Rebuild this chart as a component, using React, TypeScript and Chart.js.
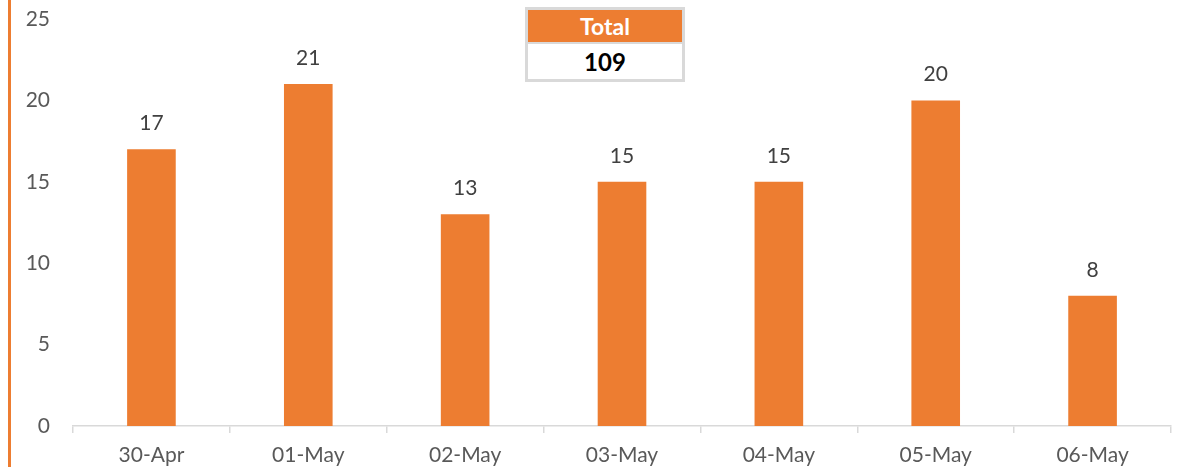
import React, { useEffect, useRef } from "react";
import { Chart, registerables } from "chart.js";

Chart.register(...registerables);

const categories = ["30-Apr", "01-May", "02-May", "03-May", "04-May", "05-May", "06-May"];
const values = [17, 21, 13, 15, 15, 20, 8];
const totalLabel = "Total";
const totalValue = 109;
const yTicks = [0, 5, 10, 15, 20, 25];

const ORANGE = "#ED7D31";
const FONT = "Lato";

const dataLabelPlugin = {
  id: "dataLabels",
  afterDatasetsDraw(chart: any) {
    const ctx = chart.ctx;
    const meta = chart.getDatasetMeta(0);
    ctx.save();
    ctx.font = `21px ${FONT}`;
    ctx.fillStyle = "#404040";
    ctx.textAlign = "center";
    ctx.textBaseline = "middle";
    meta.data.forEach((el: any, i: number) => {
      ctx.fillText(String(chart.data.datasets[0].data[i]), el.x, el.y - 26);
    });
    ctx.restore();
  },
};

export default function App() {
  const ref = useRef<HTMLCanvasElement | null>(null);

  useEffect(() => {
    document.body.style.margin = "0";
    if (!ref.current) return;
    const chart = new Chart(ref.current, {
      type: "bar",
      data: {
        labels: categories,
        datasets: [
          {
            data: values,
            backgroundColor: ORANGE,
            borderWidth: 0,
            categoryPercentage: 1,
            barPercentage: 0.31,
          },
        ],
      },
      options: {
        animation: false,
        responsive: false,
        maintainAspectRatio: false,
        layout: { padding: { top: 19, right: 25, left: 0, bottom: 0 } },
        plugins: { legend: { display: false }, tooltip: { enabled: false } },
        scales: {
          x: {
            offset: true,
            grid: {
              display: true,
              drawOnChartArea: false,
              drawTicks: true,
              tickLength: 7,
              color: "#d9d9d9",
              lineWidth: 1.5,
              offset: true,
            },
            border: { display: true, color: "#d9d9d9", width: 1.5 },
            ticks: {
              font: { family: FONT, size: 21 },
              color: "#595959",
              padding: 10,
              maxRotation: 0,
              autoSkip: false,
            },
            afterFit: (s: any) => {
              s.height = 41;
              s.paddingLeft = 0;
              s.paddingRight = 0;
            },
          },
          y: {
            min: 0,
            max: 25,
            afterBuildTicks: (s: any) => {
              s.ticks = yTicks.map((v) => ({ value: v }));
            },
            ticks: {
              font: { family: FONT, size: 21 },
              color: "#595959",
              padding: 23,
            },
            grid: { display: false, drawTicks: false },
            border: { display: false },
            afterFit: (s: any) => {
              s.width = 73;
              s.paddingTop = 0;
              s.paddingBottom = 0;
            },
          },
        },
      },
      plugins: [dataLabelPlugin],
    });
    return () => chart.destroy();
  }, []);

  return (
    <div style={{ position: "relative", width: 1196, height: 467, overflow: "hidden", background: "#fff" }}>
      <canvas ref={ref} width={1196} height={467} style={{ position: "absolute", left: 0, top: 0, display: "block" }} />
      <div style={{ position: "absolute", left: 8, top: 0, width: 3, height: 467, background: ORANGE }} />
      <div
        style={{
          position: "absolute",
          left: 525,
          top: 7,
          width: 160,
          height: 75,
          border: "3px solid #d9d9d9",
          boxSizing: "border-box",
          background: "#fff",
          fontFamily: FONT,
        }}
      >
        <div
          style={{
            height: 32,
            background: ORANGE,
            color: "#fff",
            fontWeight: 700,
            fontSize: 23,
            lineHeight: "32px",
            textAlign: "center",
            borderBottom: "2px solid #d9d9d9",
          }}
        >
          {totalLabel}
        </div>
        <div
          style={{
            height: 35,
            color: "#000",
            fontWeight: 700,
            fontSize: 24,
            lineHeight: "35px",
            textAlign: "center",
          }}
        >
          {totalValue}
        </div>
      </div>
    </div>
  );
}
